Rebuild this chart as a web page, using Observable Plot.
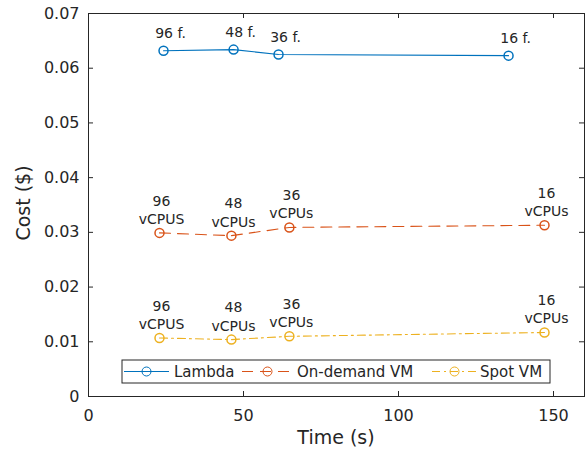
<!DOCTYPE html>
<html>
<head>
<meta charset="utf-8">
<script src="https://cdn.jsdelivr.net/npm/d3@7"></script>
<script src="https://cdn.jsdelivr.net/npm/@observablehq/plot@0.6"></script>
<style>
  html, body { margin: 0; padding: 0; background: #fff; }
  #chart { position: relative; width: 586px; height: 450px; }
  svg { font-family: "DejaVu Sans", sans-serif; }
</style>
</head>
<body>
<div id="chart"></div>
<script>
// ---- data ----
const seriesNames = ["Lambda", "On-demand VM", "Spot VM"];
const lambdaTime = [24.2, 46.8, 61.3, 135.5];
const lambdaCost = [0.0632, 0.0634, 0.0625, 0.0623];
const lambdaLabels = ["96 f.", "48 f.", "36 f.", "16 f."];
const onDemandTime = [22.9, 46.1, 64.8, 147.1];
const onDemandCost = [0.0299, 0.0294, 0.0309, 0.0313];
const spotTime = [22.9, 46.1, 64.8, 147.1];
const spotCost = [0.0107, 0.0104, 0.0110, 0.0117];
const vmLabels = ["96\nvCPUS", "48\nvCPUs", "36\nvCPUs", "16\nvCPUs"];
const xTicks = [0, 50, 100, 150];
const yTicks = [0, 0.01, 0.02, 0.03, 0.04, 0.05, 0.06, 0.07];
const xTitle = "Time (s)";
const yTitle = "Cost ($)";
const colors = ["#0072BD", "#D95319", "#EDB120"];
const dashes = [null, "11,7", "8,4,2,4"];

const rows = (times, costs, labels, s) => times.map((t, i) => ({time: t, cost: costs[i], label: labels[i], series: s}));
const lambda = rows(lambdaTime, lambdaCost, lambdaLabels, seriesNames[0]);
const onDemand = rows(onDemandTime, onDemandCost, vmLabels, seriesNames[1]);
const spot = rows(spotTime, spotCost, vmLabels, seriesNames[2]);

const W = 586, H = 450, mL = 88, mR = 2, mT = 13, mB = 54;
const pw = W - mL - mR, ph = H - mT - mB;
const ink = "#262626";

const chart = Plot.plot({
  width: W, height: H,
  marginLeft: mL, marginRight: mR, marginTop: mT, marginBottom: mB,
  style: {fontFamily: "DejaVu Sans, sans-serif", color: ink, background: "white"},
  x: {domain: [0, 160]},
  y: {domain: [0, 0.07]},
  marks: [
    Plot.axisX({ticks: xTicks, tickSize: 0, tickPadding: 13, fontSize: 16, label: null, fill: ink}),
    Plot.axisY({ticks: yTicks, tickSize: 0, tickPadding: 9, fontSize: 16, tickFormat: d => d === 0 ? "0" : d.toFixed(2), label: null, fill: ink}),
    Plot.tickY(yTicks, {y: d => d, stroke: ink, insetRight: pw - 5}),
    Plot.tickY(yTicks, {y: d => d, stroke: ink, insetLeft: pw - 5}),
    Plot.tickX(xTicks, {x: d => d, stroke: ink, insetTop: ph - 5}),
    Plot.tickX(xTicks, {x: d => d, stroke: ink, insetBottom: ph - 5}),
    Plot.line(lambda, {x: "time", y: "cost", stroke: colors[0], strokeWidth: 1.1}),
    Plot.line(onDemand, {x: "time", y: "cost", stroke: colors[1], strokeWidth: 1.1, strokeDasharray: dashes[1]}),
    Plot.line(spot, {x: "time", y: "cost", stroke: colors[2], strokeWidth: 1.1, strokeDasharray: dashes[2]}),
    Plot.dot(lambda, {x: "time", y: "cost", stroke: colors[0], fill: "none", r: 4.5}),
    Plot.dot(onDemand, {x: "time", y: "cost", stroke: colors[1], fill: "none", r: 4.5}),
    Plot.dot(spot, {x: "time", y: "cost", stroke: colors[2], fill: "none", r: 4.5}),
    Plot.text(lambda, {x: "time", y: "cost", text: "label", dx: 7, dy: -17, fontSize: 14, fill: ink}),
    Plot.text(onDemand, {x: "time", y: "cost", text: "label", dx: 2, dy: -9, lineAnchor: "bottom", lineHeight: 1.3, fontSize: 14, fill: ink}),
    Plot.text(spot, {x: "time", y: "cost", text: "label", dx: 2, dy: -9, lineAnchor: "bottom", lineHeight: 1.3, fontSize: 14, fill: ink}),
    Plot.frame({stroke: ink})
  ]
});
document.getElementById("chart").appendChild(chart);

const svg = d3.select(chart);

// ---- axis titles ----
svg.append("text").attr("x", 336).attr("y", 437).attr("dy", "0.35em")
  .attr("text-anchor", "middle").attr("font-size", 19).attr("fill", ink).text(xTitle);
svg.append("text").attr("transform", "translate(23.5,203) rotate(-90)").attr("dy", "0.35em")
  .attr("text-anchor", "middle").attr("font-size", 19).attr("fill", ink).text(yTitle);

// ---- legend (inside the axes, bottom) ----
const lg = svg.append("g").attr("font-family", "DejaVu Sans, sans-serif").attr("font-size", 15).attr("fill", ink).attr("text-anchor", "start");
const box = {x: 122, y: 360, w: 428, h: 23};
lg.append("rect").attr("x", box.x).attr("y", box.y).attr("width", box.w).attr("height", box.h)
  .attr("fill", "white").attr("stroke", ink).attr("stroke-width", 1);
const items = [
  {x1: 124, x2: 169, label: seriesNames[0], tx: 174},
  {x1: 242, x2: 293, label: seriesNames[1], tx: 297},
  {x1: 432, x2: 477, label: seriesNames[2], tx: 480}
];
const cy = box.y + box.h / 2;
items.forEach((it, i) => {
  lg.append("line").attr("x1", it.x1).attr("x2", it.x2).attr("y1", cy).attr("y2", cy)
    .attr("stroke", colors[i]).attr("stroke-width", 1.1).attr("stroke-dasharray", dashes[i]);
  lg.append("circle").attr("cx", (it.x1 + it.x2) / 2).attr("cy", cy).attr("r", 4.5)
    .attr("fill", "none").attr("stroke", colors[i]);
  lg.append("text").attr("x", it.tx).attr("y", cy).attr("dy", "0.35em").attr("text-anchor", "start").text(it.label);
});
</script>
</body>
</html>
